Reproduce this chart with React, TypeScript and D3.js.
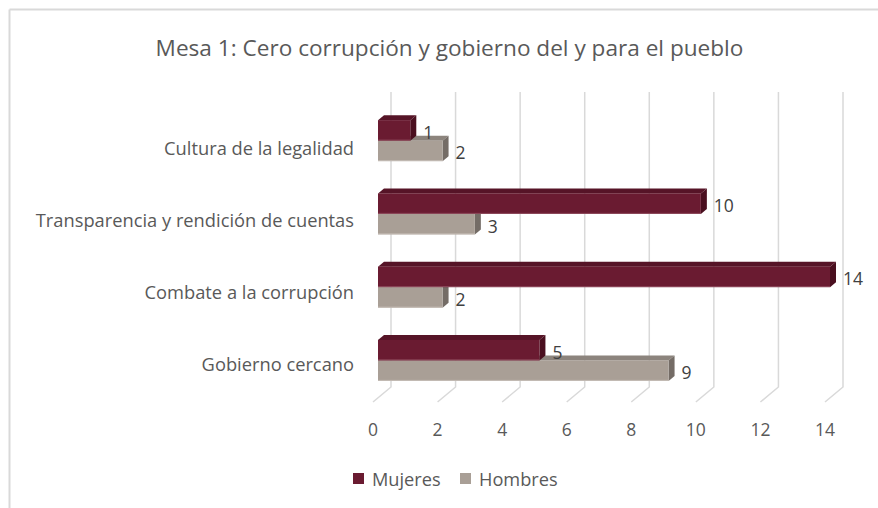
import React from "react";
import * as d3 from "d3";

const categories = [
  "Cultura de la legalidad",
  "Transparencia y rendición de cuentas",
  "Combate a la corrupción",
  "Gobierno cercano",
];
const mujeres = [1, 10, 14, 5];
const hombres = [2, 3, 2, 9];
const tickValues = [0, 2, 4, 6, 8, 10, 12, 14];
const seriesNames = ["Mujeres", "Hombres"];

const W = 878;
const H = 508;
const FONT = "'Open Sans', 'Noto Sans', sans-serif";

const colors = {
  mujeres: { front: "#6A1B31", top: "#561427", side: "#4A0F1F", edge: "#8E4A5C" },
  hombres: { front: "#A99F96", top: "#8C847D", side: "#746C66", edge: "#C4BCB5" },
};

const DX = 6;
const DY = -5;

function Bar({ x0, x1, y0, y1, c }: { x0: number; x1: number; y0: number; y1: number; c: any }) {
  const top = [
    [x0, y0],
    [x0 + DX, y0 + DY],
    [x1 + DX, y0 + DY],
    [x1, y0],
  ];
  const side = [
    [x1, y0],
    [x1 + DX, y0 + DY],
    [x1 + DX, y1 + DY],
    [x1, y1],
  ];
  const pts = (p: number[][]) => p.map((q) => q.join(",")).join(" ");
  return (
    <g>
      <polygon points={pts(top)} fill={c.top} />
      <polygon points={pts(side)} fill={c.side} />
      <rect x={x0} y={y0} width={Math.max(0, x1 - x0)} height={y1 - y0} fill={c.front} />
      <line x1={x0} x2={x1} y1={y1 - 0.5} y2={y1 - 0.5} stroke={c.edge} strokeWidth={1} />
    </g>
  );
}

export default function App() {
  const x = d3.scaleLinear().domain([0, 14]).range([378, 830]);
  const y = d3.scaleBand<string>().domain(categories).range([104, 397]);
  const barH = 20.5;
  const backDx = 13;
  const floorDx = -5;
  const gridTop = 92;
  const gridBottom = 387;
  const floorY = 402;

  return (
    <svg
      width={W}
      height={H}
      style={{ position: "absolute", left: 0, top: 0, background: "#fff" }}
      fontFamily={FONT}
    >
      <rect x={0} y={0} width={W} height={H} fill="#fff" />
      {/* frame */}
      <line x1={9.5} x2={W} y1={9.5} y2={9.5} stroke="#D9D9D9" strokeWidth={2} />
      <line x1={9.5} x2={9.5} y1={9.5} y2={H} stroke="#D9D9D9" strokeWidth={2} />

      {/* title */}
      <text x={449.5} y={47} textAnchor="middle" dominantBaseline="central" fontSize={22.6} fill="#595959">
        Mesa 1: Cero corrupción y gobierno del y para el pueblo
      </text>

      {/* gridlines */}
      {tickValues.map((v) => (
        <g key={v}>
          <polyline
            points={`${x(v) + backDx},${gridTop} ${x(v) + backDx},${gridBottom} ${x(v) + floorDx},${floorY}`}
            fill="none"
            stroke="#D9D9D9"
            strokeWidth={1.5}
          />
          <text
            x={x(v) + floorDx}
            y={429}
            textAnchor="middle"
            dominantBaseline="central"
            fontSize={17.5}
            fill="#595959"
          >
            {v}
          </text>
        </g>
      ))}

      {/* bars */}
      {categories.map((c, i) => {
        const cy = (y(c) as number) + y.bandwidth() / 2;
        return (
          <g key={c}>
            <Bar x0={x(0)} x1={x(hombres[i])} y0={cy} y1={cy + barH} c={colors.hombres} />
            <Bar x0={x(0)} x1={x(mujeres[i])} y0={cy - barH} y1={cy} c={colors.mujeres} />
            <text
              x={x(mujeres[i]) + 13}
              y={cy - barH / 2 + 1.5}
              dominantBaseline="central"
              fontSize={17.5}
              fill="#404040"
            >
              {mujeres[i]}
            </text>
            <text
              x={x(hombres[i]) + 13}
              y={cy + barH / 2 + 1.5}
              dominantBaseline="central"
              fontSize={17.5}
              fill="#404040"
            >
              {hombres[i]}
            </text>
            <text
              x={354}
              y={cy + 7 - i * 1.4}
              textAnchor="end"
              dominantBaseline="central"
              fontSize={18.3}
              fill="#595959"
            >
              {c}
            </text>
          </g>
        );
      })}

      {/* legend */}
      {seriesNames.map((s, i) => {
        const lx = i === 0 ? 353 : 460;
        const c = i === 0 ? colors.mujeres.front : colors.hombres.front;
        return (
          <g key={s}>
            <rect x={lx} y={473} width={11} height={11} fill={c} />
            <text x={lx + 19} y={479} dominantBaseline="central" fontSize={18.2} fill="#595959">
              {s}
            </text>
          </g>
        );
      })}
    </svg>
  );
}
